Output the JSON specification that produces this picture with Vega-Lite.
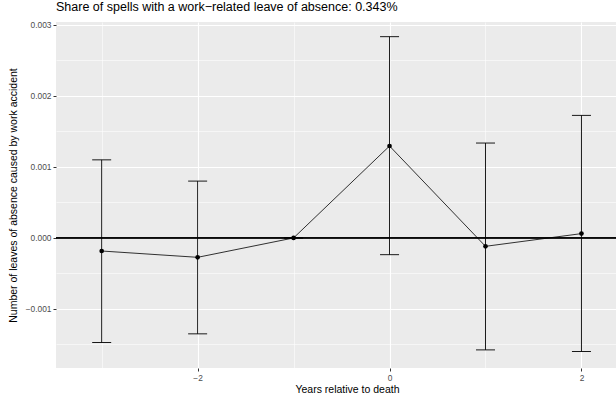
{
  "$schema": "https://vega.github.io/schema/vega-lite/v6.json",
  "width": 560,
  "height": 346,
  "autosize": {"type": "none"},
  "padding": {"left": 56, "top": 22, "right": 0, "bottom": 27},
  "background": "white",
  "title": {
    "text": "Share of spells with a work−related leave of absence: 0.343%",
    "anchor": "start",
    "frame": "group",
    "fontSize": 12.5,
    "fontWeight": "normal",
    "font": "Liberation Sans",
    "color": "black",
    "offset": 7
  },
  "config": {
    "view": {"fill": "#EBEBEB", "stroke": null},
    "axis": {
      "domain": false,
      "gridColor": "white",
      "labelFont": "Liberation Sans",
      "titleFont": "Liberation Sans",
      "labelColor": "#4D4D4D",
      "labelFontSize": 8.4,
      "titleFontSize": 10.5,
      "titleFontWeight": "normal",
      "titleColor": "black",
      "tickSize": 3,
      "labelPadding": 2
    }
  },
  "data": {
    "values": [
      {"year": -3, "est": -0.000184, "lo": -0.001473, "hi": 0.0011},
      {"year": -2, "est": -0.000273, "lo": -0.001351, "hi": 0.000801},
      {"year": -1, "est": 0, "lo": 0, "hi": 0},
      {"year": 0, "est": 0.001295, "lo": -0.000236, "hi": 0.002835},
      {"year": 1, "est": -0.000118, "lo": -0.001577, "hi": 0.001337},
      {"year": 2, "est": 0.000061, "lo": -0.0016, "hi": 0.001727}
    ]
  },
  "encoding": {
    "x": {
      "field": "year",
      "type": "quantitative",
      "scale": {"domain": [-3.476, 2.36], "nice": false, "zero": false},
      "axis": {
        "title": "Years relative to death",
        "values": [-3, -2, -1, 0, 1, 2],
        "labelExpr": "datum.value % 2 == 0 ? datum.label : ''",
        "gridWidth": {"condition": {"test": "datum.value % 2 == 0", "value": 1.1}, "value": 0.55},
        "tickColor": {"condition": {"test": "datum.value % 2 == 0", "value": "#333333"}, "value": "transparent"},
        "titlePadding": 3,
        "titleX": 291
      }
    },
    "y": {
      "field": "est",
      "type": "quantitative",
      "scale": {"domain": [-0.001832, 0.003042], "nice": false, "zero": false},
      "axis": {
        "title": "Number of leaves of absence caused by work accident",
        "values": [-0.0015, -0.001, -0.0005, 0, 0.0005, 0.001, 0.0015, 0.002, 0.0025, 0.003],
        "labelExpr": "abs(datum.value*1000 - round(datum.value*1000)) < 0.01 ? format(datum.value, '.3f') : ''",
        "gridWidth": {"condition": {"test": "abs(datum.value*1000 - round(datum.value*1000)) < 0.01", "value": 1.1}, "value": 0.55},
        "tickColor": {"condition": {"test": "abs(datum.value*1000 - round(datum.value*1000)) < 0.01", "value": "#333333"}, "value": "transparent"},
        "titlePadding": 7
      }
    }
  },
  "layer": [
    {
      "mark": {"type": "rule", "color": "black", "strokeWidth": 0.9},
      "encoding": {"y": {"field": "lo", "type": "quantitative"}, "y2": {"field": "hi"}}
    },
    {
      "mark": {"type": "tick", "orient": "horizontal", "size": 19, "thickness": 0.9, "color": "black", "opacity": 1},
      "encoding": {"y": {"field": "lo", "type": "quantitative"}}
    },
    {
      "mark": {"type": "tick", "orient": "horizontal", "size": 19, "thickness": 0.9, "color": "black", "opacity": 1},
      "encoding": {"y": {"field": "hi", "type": "quantitative"}}
    },
    {
      "mark": {"type": "rule", "color": "black", "strokeWidth": 0.7},
      "encoding": {"y": {"datum": 0, "type": "quantitative"}, "x": null}
    },
    {
      "mark": {"type": "line", "color": "black", "strokeWidth": 0.8},
      "encoding": {}
    },
    {
      "mark": {"type": "point", "filled": true, "color": "black", "opacity": 1, "size": 22},
      "encoding": {}
    }
  ]
}
